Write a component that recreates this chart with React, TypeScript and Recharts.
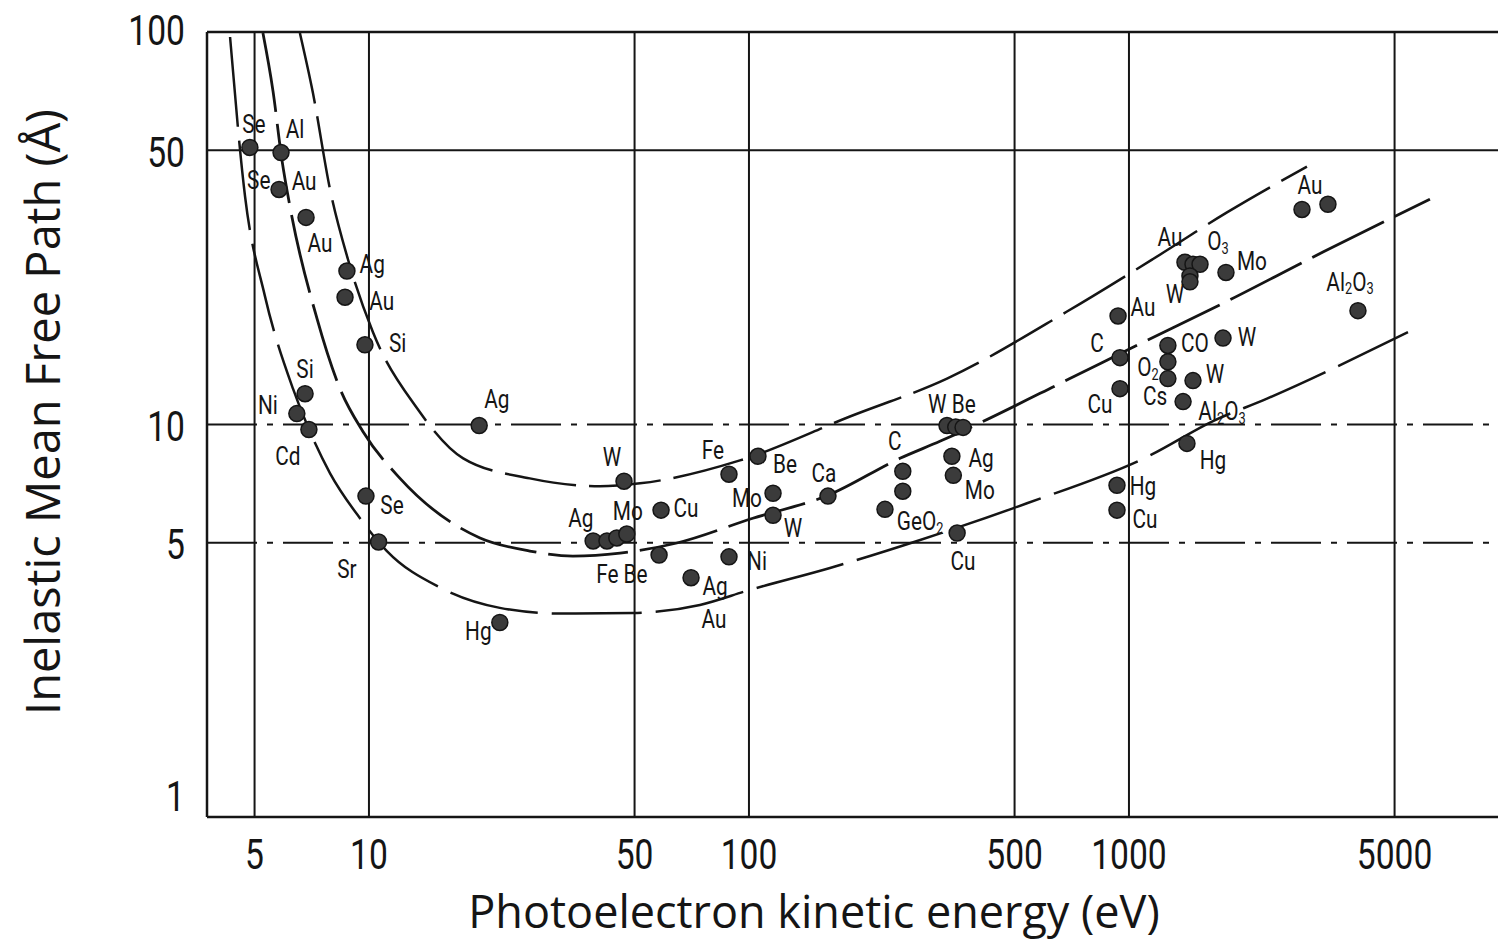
import React from 'react';
import { ComposedChart, XAxis, YAxis, Line, Scatter, ReferenceLine, Label } from 'recharts';

const X_TICKS = [5, 10, 50, 100, 500, 1000, 5000];
const Y_TICKS = [1, 5, 10, 50, 100];
const X_DOMAIN = [3.748, 9357];
const Y_DOMAIN = [1, 100];

const upperCurve = [
  { e: 6.58, l: 99.4 }, { e: 7.12, l: 70.0 }, { e: 7.9, l: 39.7 }, { e: 8.8, l: 26.4 },
  { e: 10.24, l: 17.2 }, { e: 13.4, l: 10.98 }, { e: 17.7, l: 8.2 }, { e: 26.5, l: 7.29 },
  { e: 40.5, l: 6.96 }, { e: 51.7, l: 7.08 }, { e: 94.7, l: 8.1 }, { e: 184.4, l: 10.48 },
  { e: 332, l: 13.09 }, { e: 687, l: 19.4 }, { e: 1157, l: 26.4 }, { e: 1811, l: 34.7 },
  { e: 2940, l: 45.4 },
];

const middleCurve = [
  { e: 5.26, l: 99.4 }, { e: 5.59, l: 70.8 }, { e: 5.9, l: 47.3 }, { e: 6.2, l: 35.8 },
  { e: 7.3, l: 18.6 }, { e: 8.39, l: 12.34 }, { e: 9.64, l: 9.6 }, { e: 12.07, l: 7.29 },
  { e: 19.6, l: 5.14 }, { e: 26.5, l: 4.76 }, { e: 34.4, l: 4.62 }, { e: 45.8, l: 4.7 },
  { e: 64.6, l: 4.99 }, { e: 102.4, l: 5.77 }, { e: 161.4, l: 6.6 }, { e: 249.7, l: 8.2 },
  { e: 318, l: 9.06 }, { e: 699, l: 13.09 }, { e: 1006, l: 15.6 }, { e: 1811, l: 20.6 },
  { e: 3240, l: 27.5 }, { e: 6196, l: 37.5 },
];

const lowerCurve = [
  { e: 4.31, l: 97.1 }, { e: 4.72, l: 38.1 }, { e: 5.32, l: 21.3 }, { e: 6.31, l: 12.34 },
  { e: 6.99, l: 9.6 }, { e: 7.9, l: 7.51 }, { e: 9.47, l: 5.77 }, { e: 11.15, l: 4.76 },
  { e: 15.4, l: 3.84 }, { e: 22.1, l: 3.41 }, { e: 31.8, l: 3.3 }, { e: 49.5, l: 3.31 },
  { e: 74.3, l: 3.47 }, { e: 100.6, l: 3.79 }, { e: 163.4, l: 4.31 }, { e: 277, l: 5.05 },
  { e: 539, l: 6.3 }, { e: 1136, l: 8.34 }, { e: 1664, l: 10.2 }, { e: 2308, l: 11.64 },
  { e: 5423, l: 17.2 },
];

const dots = [
  { e: 4.86, l: 50.8 }, { e: 5.87, l: 49.3 }, { e: 5.8, l: 39.7 }, { e: 6.83, l: 33.7 },
  { e: 8.75, l: 24.6 }, { e: 8.65, l: 21.1 }, { e: 9.76, l: 15.96 }, { e: 6.79, l: 11.98 },
  { e: 6.46, l: 10.66 }, { e: 6.95, l: 9.71 }, { e: 19.5, l: 9.94 }, { e: 9.82, l: 6.57 },
  { e: 10.6, l: 5.02 }, { e: 22.1, l: 3.13 }, { e: 46.9, l: 7.17 },
  { e: 38.9, l: 5.05 }, { e: 42.3, l: 5.05 }, { e: 44.9, l: 5.14 }, { e: 47.7, l: 5.26 },
  { e: 58.7, l: 6.05 }, { e: 58.0, l: 4.65 }, { e: 70.4, l: 4.07 }, { e: 88.6, l: 7.47 },
  { e: 105.6, l: 8.3 }, { e: 115.7, l: 6.68 }, { e: 115.7, l: 5.87 }, { e: 88.6, l: 4.6 },
  { e: 161.4, l: 6.57 }, { e: 254, l: 7.6 }, { e: 254, l: 6.76 }, { e: 228, l: 6.08 },
  { e: 332, l: 9.94 }, { e: 350, l: 9.85 }, { e: 366, l: 9.83 }, { e: 342, l: 8.3 },
  { e: 345, l: 7.42 }, { e: 353, l: 5.29 }, { e: 930, l: 7.0 }, { e: 930, l: 6.05 },
  { e: 947, l: 12.34 }, { e: 1421, l: 8.95 }, { e: 2853, l: 35.3 }, { e: 3339, l: 36.4 },
  { e: 1404, l: 25.9 }, { e: 1474, l: 25.6 }, { e: 1538, l: 25.6 }, { e: 1447, l: 23.9 },
  { e: 1447, l: 23.1 }, { e: 1800, l: 24.4 }, { e: 4005, l: 19.5 }, { e: 936, l: 18.9 },
  { e: 947, l: 14.8 }, { e: 1266, l: 15.9 }, { e: 1266, l: 14.45 }, { e: 1266, l: 13.09 },
  { e: 1768, l: 16.6 }, { e: 1474, l: 12.94 }, { e: 1388, l: 11.44 },
];

const labels = [
  { text: 'Se', e: 4.98, l: 58.1 }, { text: 'Al', e: 6.39, l: 56.4 },
  { text: 'Se', e: 5.13, l: 41.9 }, { text: 'Au', e: 6.75, l: 41.6 },
  { text: 'Au', e: 7.43, l: 29.0 }, { text: 'Ag', e: 10.2, l: 25.6 },
  { text: 'Au', e: 10.8, l: 20.6 }, { text: 'Si', e: 11.9, l: 16.1 },
  { text: 'Si', e: 6.79, l: 13.8 }, { text: 'Ni', e: 5.42, l: 11.2 },
  { text: 'Cd', e: 6.12, l: 8.3 }, { text: 'Ag', e: 21.7, l: 11.6 },
  { text: 'Se', e: 11.5, l: 6.23 }, { text: 'Sr', e: 8.75, l: 4.29 },
  { text: 'Hg', e: 19.4, l: 2.98 }, { text: 'W', e: 43.6, l: 8.25 },
  { text: 'Ag', e: 36.1, l: 5.77 }, { text: 'Mo', e: 48.0, l: 6.01 },
  { text: 'Cu', e: 68.3, l: 6.12 }, { text: 'Fe Be', e: 46.3, l: 4.16 },
  { text: 'Ag', e: 81.4, l: 3.88 }, { text: 'Au', e: 80.9, l: 3.2 },
  { text: 'Fe', e: 80.4, l: 8.59 }, { text: 'Be', e: 124.4, l: 7.92 },
  { text: 'Mo', e: 98.8, l: 6.49 }, { text: 'W', e: 130.6, l: 5.45 },
  { text: 'Ni', e: 105, l: 4.49 }, { text: 'Ca', e: 157.5, l: 7.51 },
  { text: 'C', e: 242, l: 9.06 }, { text: 'GeO2', e: 282, l: 5.67 },
  { text: 'W Be', e: 342, l: 11.3 }, { text: 'Ag', e: 408, l: 8.2 },
  { text: 'Mo', e: 405, l: 6.8 }, { text: 'Cu', e: 366, l: 4.49 },
  { text: 'Cu', e: 839, l: 11.3 }, { text: 'Hg', e: 1088, l: 6.96 },
  { text: 'Cu', e: 1102, l: 5.74 }, { text: 'Hg', e: 1664, l: 8.1 },
  { text: 'Au', e: 2994, l: 40.6 }, { text: 'Au', e: 1282, l: 30.0 },
  { text: 'O3', e: 1715, l: 29.3 }, { text: 'Mo', e: 2107, l: 26.1 },
  { text: 'W', e: 1321, l: 21.5 }, { text: 'Al2O3', e: 3816, l: 23.1 },
  { text: 'Au', e: 1088, l: 19.9 }, { text: 'C', e: 824, l: 16.1 },
  { text: 'CO', e: 1492, l: 16.1 }, { text: 'W', e: 2044, l: 16.7 },
  { text: 'O2', e: 1122, l: 14.0 }, { text: 'W', e: 1684, l: 13.4 },
  { text: 'Cs', e: 1171, l: 11.8 }, { text: 'Al2O3', e: 1757, l: 10.8 },
];

const INK = '#151515';
const TECH_FONT = 'Roboto, "DejaVu Sans", sans-serif';
const TITLE_FONT = '"Open Sans", "Noto Sans", sans-serif';
const SQUEEZE = 0.8;

function chemParts(s: string) {
  const parts: { t: string; sub: boolean }[] = [];
  for (const ch of s) {
    const sub = /[0-9]/.test(ch);
    const last = parts[parts.length - 1];
    if (last && last.sub === sub) last.t += ch;
    else parts.push({ t: ch, sub });
  }
  return parts;
}

const LabelShape = (props: any) => {
  const { cx, cy, payload } = props;
  if (cx == null || cy == null) return null;
  const parts = chemParts(payload.text);
  return (
    <g transform={`translate(${cx},${cy}) scale(${SQUEEZE},1)`}>
      <text x={0} y={0} textAnchor="middle" dominantBaseline="central" fontFamily={TECH_FONT} fontSize={26} fill={INK}>
        {parts.map((p, i) => (
          <tspan key={i} fontSize={p.sub ? 16 : 26} dy={p.sub ? 7 : i > 0 && parts[i - 1].sub ? -7 : 0}>
            {p.t}
          </tspan>
        ))}
      </text>
    </g>
  );
};

const DotShape = (props: any) => {
  const { cx, cy } = props;
  if (cx == null || cy == null) return null;
  return <circle cx={cx} cy={cy} r={8} fill="#3b3b3b" stroke={INK} strokeWidth={1.5} />;
};

const XTick = (props: any) => {
  const { x, y, payload } = props;
  return (
    <g transform={`translate(${x},${y + 38}) scale(${SQUEEZE},1)`}>
      <text x={0} y={0} textAnchor="middle" dominantBaseline="central" fontFamily={TECH_FONT} fontSize={42} fill={INK}>
        {payload.value}
      </text>
    </g>
  );
};

const YTick = (props: any) => {
  const { x, y, payload } = props;
  const shift = payload.value === 1 ? -20 : payload.value === 100 ? -1 : 2;
  return (
    <g transform={`translate(${x - 22},${y + shift}) scale(${SQUEEZE},1)`}>
      <text x={0} y={0} textAnchor="end" dominantBaseline="central" fontFamily={TECH_FONT} fontSize={42} fill={INK}>
        {payload.value}
      </text>
    </g>
  );
};

const XTitle = (props: any) => {
  const { viewBox } = props;
  return (
    <text x={viewBox.x + 607} y={viewBox.y + 93} textAnchor="middle" dominantBaseline="central" fontFamily={TITLE_FONT} fontSize={45} fill={INK}>
      Photoelectron kinetic energy (eV)
    </text>
  );
};

const YTitle = (props: any) => {
  const { viewBox } = props;
  const cx = 42;
  const cy = viewBox.y + 380;
  return (
    <text x={cx} y={cy} textAnchor="middle" dominantBaseline="central" fontFamily={TITLE_FONT} fontSize={47} fill={INK} transform={`rotate(-90 ${cx} ${cy})`}>
      Inelastic Mean Free Path (Å)
    </text>
  );
};

export default function App() {
  return (
    <div style={{ position: 'absolute', left: 0, top: 0, width: 1498, height: 940, background: '#fff' }}>
      <ComposedChart width={1498} height={940} margin={{ top: 32, right: 0, bottom: 0, left: 0 }}>
        <XAxis
          type="number"
          dataKey="e"
          scale="log"
          domain={X_DOMAIN}
          allowDataOverflow
          ticks={X_TICKS}
          tick={<XTick />}
          tickLine={false}
          tickSize={0}
          tickMargin={0}
          height={123}
          axisLine={{ stroke: INK, strokeWidth: 2.5 }}
        >
          <Label content={<XTitle />} />
        </XAxis>
        <YAxis
          type="number"
          dataKey="l"
          scale="log"
          domain={Y_DOMAIN}
          allowDataOverflow
          ticks={Y_TICKS}
          tick={<YTick />}
          tickLine={false}
          tickSize={0}
          tickMargin={0}
          width={207}
          axisLine={{ stroke: INK, strokeWidth: 2.5 }}
        >
          <Label content={<YTitle />} />
        </YAxis>
        {X_TICKS.map((v) => (
          <ReferenceLine key={'x' + v} x={v} stroke={INK} strokeWidth={2} />
        ))}
        <ReferenceLine y={100} stroke={INK} strokeWidth={2.5} />
        <ReferenceLine y={50} stroke={INK} strokeWidth={2} />
        <ReferenceLine y={10} stroke={INK} strokeWidth={2} strokeDasharray="50 10 6 10" />
        <ReferenceLine y={5} stroke={INK} strokeWidth={2} strokeDasharray="50 10 6 10" />
        <Line data={upperCurve} dataKey="l" type="monotone" stroke={INK} strokeWidth={2.5} strokeDasharray="72 13" dot={false} activeDot={false} isAnimationActive={false} />
        <Line data={middleCurve} dataKey="l" type="monotone" stroke={INK} strokeWidth={2.8} strokeDasharray="80 12" dot={false} activeDot={false} isAnimationActive={false} />
        <Line data={lowerCurve} dataKey="l" type="monotone" stroke={INK} strokeWidth={2.5} strokeDasharray="90 14" dot={false} activeDot={false} isAnimationActive={false} />
        <Scatter data={dots} dataKey="l" shape={<DotShape />} isAnimationActive={false} />
        <Scatter data={labels} dataKey="l" shape={<LabelShape />} isAnimationActive={false} />
      </ComposedChart>
    </div>
  );
}
